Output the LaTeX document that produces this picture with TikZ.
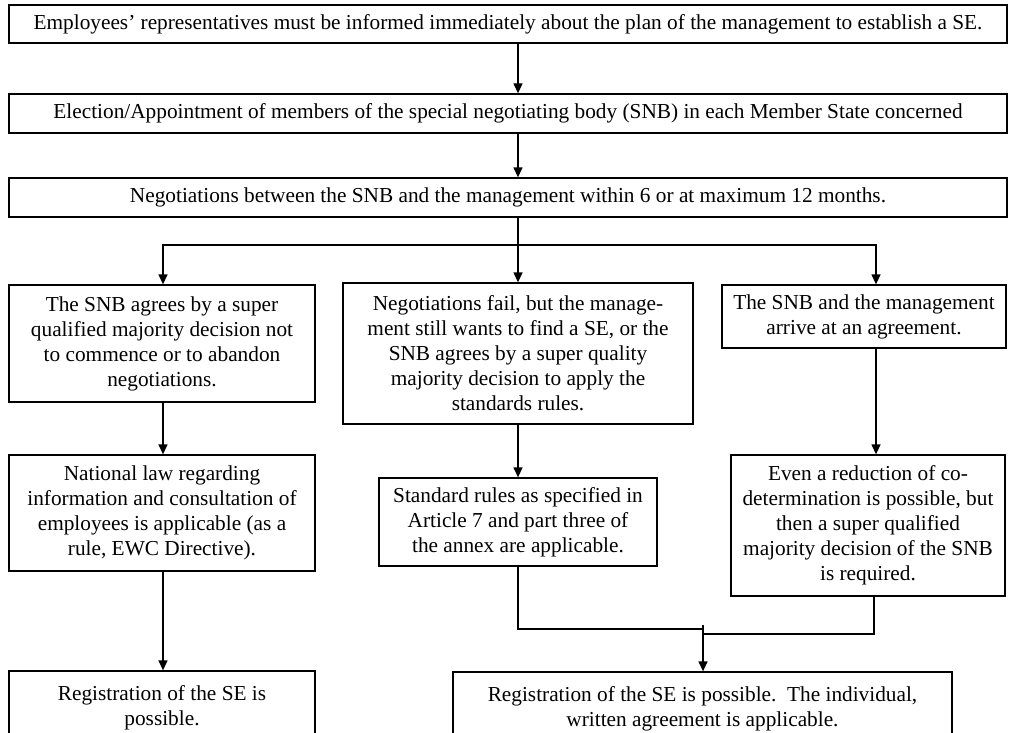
\documentclass[tikz,border=0pt]{standalone}
\usepackage{fontspec}
\setmainfont{Liberation Serif}
\usetikzlibrary{arrows.meta}
\begin{document}
\begin{tikzpicture}[x=1pt,y=-1pt,
  box/.style={draw=black, line width=1.3pt, inner sep=0pt, align=center, fill=white,
    font=\fontsize{21.3}{25}\selectfont},
  arr/.style={line width=1.3pt, -{Triangle[length=10pt,width=9pt]}},
  ln/.style={line width=1.3pt}]
\useasboundingbox (0,0) rectangle (1014,733);
\clip (0,0) rectangle (1014,733);
% coordinates for connector columns
\coordinate (cx) at (518,0);
\coordinate (lx) at (163,0);
\coordinate (rx) at (876,0);
\coordinate (rx2) at (874,0);
\coordinate (mx) at (703,0);
% top row
\node[box, minimum width=998pt, minimum height=38pt] (b1) at (508,24)
  {Employees’ representatives must be informed immediately about the plan of the management to establish a SE.};
\node[box, minimum width=998pt, minimum height=39pt] (b2) at (508,113.5)
  {Election/Appointment of members of the special negotiating body (SNB) in each Member State concerned};
\node[box, minimum width=998pt, minimum height=39pt] (b3) at (508,197.5)
  {Negotiations between the SNB and the management within 6 or at maximum 12 months.};
% second row
\node[box, minimum width=306pt, minimum height=117pt] (L1) at (162,343.5)
  {The SNB agrees by a super\\qualified majority decision not\\to commence or to abandon\\negotiations.};
\node[box, minimum width=350pt, minimum height=141pt] (M1) at (518,353.5)
  {Negotiations fail, but the manage-\\ment still wants to find a SE, or the\\SNB agrees by a super quality\\majority decision to apply the\\standards rules.};
\node[box, minimum width=284pt, minimum height=63pt] (R1) at (864,316.5)
  {The SNB and the management\\arrive at an agreement.};
% third row
\node[box, minimum width=306pt, minimum height=116pt] (L2) at (162,513)
  {National law regarding\\information and consultation of\\employees is applicable (as a\\rule, EWC Directive).};
\node[box, minimum width=278pt, minimum height=88pt] (M2) at (518,522)
  {Standard rules as specified in\\Article 7 and part three of\\the annex are applicable.};
\node[box, minimum width=274pt, minimum height=141pt] (R2) at (868,525.5)
  {Even a reduction of co-\\determination is possible, but\\then a super qualified\\majority decision of the SNB\\is required.};
% bottom row
\node[box, minimum width=306pt, minimum height=74pt] (L3) at (162,708)
  {Registration of the SE is\\possible.};
\node[box, minimum width=499pt, minimum height=73pt] (R3) at (702.5,708.5)
  {Registration of the SE is possible.\ \ The individual,\\written agreement is applicable.};
% connectors
\draw[arr] (b1.south -| cx) -- (b2.north -| cx);
\draw[arr] (b2.south -| cx) -- (b3.north -| cx);
\coordinate (br) at (518,245);
\draw[arr] (b3.south -| cx) -- (M1.north -| cx);
\draw[arr] (br) -| (L1.north -| lx);
\draw[arr] (br) -| (R1.north -| rx);
\draw[arr] (L1.south -| lx) -- (L2.north -| lx);
\draw[arr] (M1.south -| cx) -- (M2.north -| cx);
\draw[arr] (R1.south -| rx) -- (R2.north -| rx);
\draw[arr] (L2.south -| lx) -- (L3.north -| lx);
\coordinate (mg) at (703,625);
\draw[ln] (M2.south -| cx) |- (703,629);
\draw[ln] (R2.south -| rx2) |- (703,634);
\draw[arr] (mg) -- (R3.north -| mx);
\end{tikzpicture}
\end{document}
